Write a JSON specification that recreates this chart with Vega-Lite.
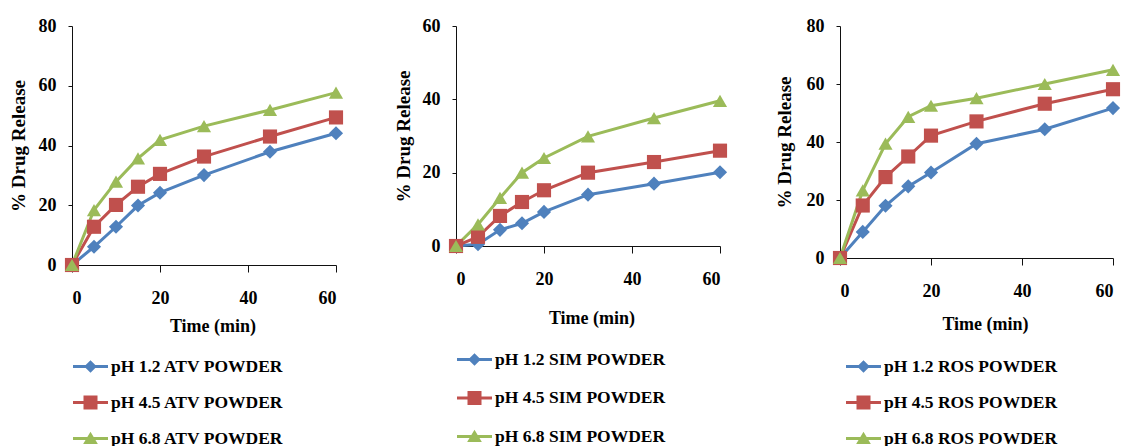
{
  "$schema": "https://vega.github.io/schema/vega-lite/v6.json",
  "padding": {"left": 8, "top": 17, "right": 0, "bottom": 0},
  "background": "white",
  "data": {"values": [
    {"drug": "ATV", "ph": "1.2", "series": "pH 1.2 ATV POWDER", "t": 0, "r": 0},
    {"drug": "ATV", "ph": "1.2", "series": "pH 1.2 ATV POWDER", "t": 5, "r": 6.1},
    {"drug": "ATV", "ph": "1.2", "series": "pH 1.2 ATV POWDER", "t": 10, "r": 12.8},
    {"drug": "ATV", "ph": "1.2", "series": "pH 1.2 ATV POWDER", "t": 15, "r": 19.9},
    {"drug": "ATV", "ph": "1.2", "series": "pH 1.2 ATV POWDER", "t": 20, "r": 24.2},
    {"drug": "ATV", "ph": "1.2", "series": "pH 1.2 ATV POWDER", "t": 30, "r": 30.1},
    {"drug": "ATV", "ph": "1.2", "series": "pH 1.2 ATV POWDER", "t": 45, "r": 37.9},
    {"drug": "ATV", "ph": "1.2", "series": "pH 1.2 ATV POWDER", "t": 60, "r": 44.1},
    {"drug": "ATV", "ph": "4.5", "series": "pH 4.5 ATV POWDER", "t": 0, "r": 0},
    {"drug": "ATV", "ph": "4.5", "series": "pH 4.5 ATV POWDER", "t": 5, "r": 12.8},
    {"drug": "ATV", "ph": "4.5", "series": "pH 4.5 ATV POWDER", "t": 10, "r": 20.1},
    {"drug": "ATV", "ph": "4.5", "series": "pH 4.5 ATV POWDER", "t": 15, "r": 26.2},
    {"drug": "ATV", "ph": "4.5", "series": "pH 4.5 ATV POWDER", "t": 20, "r": 30.5},
    {"drug": "ATV", "ph": "4.5", "series": "pH 4.5 ATV POWDER", "t": 30, "r": 36.3},
    {"drug": "ATV", "ph": "4.5", "series": "pH 4.5 ATV POWDER", "t": 45, "r": 43},
    {"drug": "ATV", "ph": "4.5", "series": "pH 4.5 ATV POWDER", "t": 60, "r": 49.4},
    {"drug": "ATV", "ph": "6.8", "series": "pH 6.8 ATV POWDER", "t": 0, "r": 0},
    {"drug": "ATV", "ph": "6.8", "series": "pH 6.8 ATV POWDER", "t": 5, "r": 18.4},
    {"drug": "ATV", "ph": "6.8", "series": "pH 6.8 ATV POWDER", "t": 10, "r": 27.9},
    {"drug": "ATV", "ph": "6.8", "series": "pH 6.8 ATV POWDER", "t": 15, "r": 35.7},
    {"drug": "ATV", "ph": "6.8", "series": "pH 6.8 ATV POWDER", "t": 20, "r": 41.9},
    {"drug": "ATV", "ph": "6.8", "series": "pH 6.8 ATV POWDER", "t": 30, "r": 46.5},
    {"drug": "ATV", "ph": "6.8", "series": "pH 6.8 ATV POWDER", "t": 45, "r": 51.9},
    {"drug": "ATV", "ph": "6.8", "series": "pH 6.8 ATV POWDER", "t": 60, "r": 57.7},
    {"drug": "SIM", "ph": "1.2", "series": "pH 1.2 SIM POWDER", "t": 0, "r": 0},
    {"drug": "SIM", "ph": "1.2", "series": "pH 1.2 SIM POWDER", "t": 5, "r": 0.5},
    {"drug": "SIM", "ph": "1.2", "series": "pH 1.2 SIM POWDER", "t": 10, "r": 4.4},
    {"drug": "SIM", "ph": "1.2", "series": "pH 1.2 SIM POWDER", "t": 15, "r": 6.2},
    {"drug": "SIM", "ph": "1.2", "series": "pH 1.2 SIM POWDER", "t": 20, "r": 9.3},
    {"drug": "SIM", "ph": "1.2", "series": "pH 1.2 SIM POWDER", "t": 30, "r": 14},
    {"drug": "SIM", "ph": "1.2", "series": "pH 1.2 SIM POWDER", "t": 45, "r": 17},
    {"drug": "SIM", "ph": "1.2", "series": "pH 1.2 SIM POWDER", "t": 60, "r": 20.1},
    {"drug": "SIM", "ph": "4.5", "series": "pH 4.5 SIM POWDER", "t": 0, "r": 0},
    {"drug": "SIM", "ph": "4.5", "series": "pH 4.5 SIM POWDER", "t": 5, "r": 2.5},
    {"drug": "SIM", "ph": "4.5", "series": "pH 4.5 SIM POWDER", "t": 10, "r": 8.2},
    {"drug": "SIM", "ph": "4.5", "series": "pH 4.5 SIM POWDER", "t": 15, "r": 12},
    {"drug": "SIM", "ph": "4.5", "series": "pH 4.5 SIM POWDER", "t": 20, "r": 15.2},
    {"drug": "SIM", "ph": "4.5", "series": "pH 4.5 SIM POWDER", "t": 30, "r": 20},
    {"drug": "SIM", "ph": "4.5", "series": "pH 4.5 SIM POWDER", "t": 45, "r": 22.9},
    {"drug": "SIM", "ph": "4.5", "series": "pH 4.5 SIM POWDER", "t": 60, "r": 26},
    {"drug": "SIM", "ph": "6.8", "series": "pH 6.8 SIM POWDER", "t": 0, "r": 0},
    {"drug": "SIM", "ph": "6.8", "series": "pH 6.8 SIM POWDER", "t": 5, "r": 5.9},
    {"drug": "SIM", "ph": "6.8", "series": "pH 6.8 SIM POWDER", "t": 10, "r": 13.1},
    {"drug": "SIM", "ph": "6.8", "series": "pH 6.8 SIM POWDER", "t": 15, "r": 20},
    {"drug": "SIM", "ph": "6.8", "series": "pH 6.8 SIM POWDER", "t": 20, "r": 24},
    {"drug": "SIM", "ph": "6.8", "series": "pH 6.8 SIM POWDER", "t": 30, "r": 29.9},
    {"drug": "SIM", "ph": "6.8", "series": "pH 6.8 SIM POWDER", "t": 45, "r": 34.9},
    {"drug": "SIM", "ph": "6.8", "series": "pH 6.8 SIM POWDER", "t": 60, "r": 39.6},
    {"drug": "ROS", "ph": "1.2", "series": "pH 1.2 ROS POWDER", "t": 0, "r": 0},
    {"drug": "ROS", "ph": "1.2", "series": "pH 1.2 ROS POWDER", "t": 5, "r": 9},
    {"drug": "ROS", "ph": "1.2", "series": "pH 1.2 ROS POWDER", "t": 10, "r": 18},
    {"drug": "ROS", "ph": "1.2", "series": "pH 1.2 ROS POWDER", "t": 15, "r": 24.7},
    {"drug": "ROS", "ph": "1.2", "series": "pH 1.2 ROS POWDER", "t": 20, "r": 29.5},
    {"drug": "ROS", "ph": "1.2", "series": "pH 1.2 ROS POWDER", "t": 30, "r": 39.4},
    {"drug": "ROS", "ph": "1.2", "series": "pH 1.2 ROS POWDER", "t": 45, "r": 44.4},
    {"drug": "ROS", "ph": "1.2", "series": "pH 1.2 ROS POWDER", "t": 60, "r": 51.7},
    {"drug": "ROS", "ph": "4.5", "series": "pH 4.5 ROS POWDER", "t": 0, "r": 0},
    {"drug": "ROS", "ph": "4.5", "series": "pH 4.5 ROS POWDER", "t": 5, "r": 18.1},
    {"drug": "ROS", "ph": "4.5", "series": "pH 4.5 ROS POWDER", "t": 10, "r": 27.9},
    {"drug": "ROS", "ph": "4.5", "series": "pH 4.5 ROS POWDER", "t": 15, "r": 35},
    {"drug": "ROS", "ph": "4.5", "series": "pH 4.5 ROS POWDER", "t": 20, "r": 42.2},
    {"drug": "ROS", "ph": "4.5", "series": "pH 4.5 ROS POWDER", "t": 30, "r": 47.1},
    {"drug": "ROS", "ph": "4.5", "series": "pH 4.5 ROS POWDER", "t": 45, "r": 53.2},
    {"drug": "ROS", "ph": "4.5", "series": "pH 4.5 ROS POWDER", "t": 60, "r": 58.2},
    {"drug": "ROS", "ph": "6.8", "series": "pH 6.8 ROS POWDER", "t": 0, "r": 0},
    {"drug": "ROS", "ph": "6.8", "series": "pH 6.8 ROS POWDER", "t": 5, "r": 23.3},
    {"drug": "ROS", "ph": "6.8", "series": "pH 6.8 ROS POWDER", "t": 10, "r": 39.4},
    {"drug": "ROS", "ph": "6.8", "series": "pH 6.8 ROS POWDER", "t": 15, "r": 48.7},
    {"drug": "ROS", "ph": "6.8", "series": "pH 6.8 ROS POWDER", "t": 20, "r": 52.5},
    {"drug": "ROS", "ph": "6.8", "series": "pH 6.8 ROS POWDER", "t": 30, "r": 55.1},
    {"drug": "ROS", "ph": "6.8", "series": "pH 6.8 ROS POWDER", "t": 45, "r": 60},
    {"drug": "ROS", "ph": "6.8", "series": "pH 6.8 ROS POWDER", "t": 60, "r": 64.9}
  ]},
  "config": {
    "view": {"stroke": null},
    "axis": {
      "labelFont": "Liberation Serif", "labelFontWeight": "bold", "labelFontSize": 18, "labelColor": "#000",
      "titleFont": "Liberation Serif", "titleFontWeight": "bold", "titleFontSize": 18, "titleColor": "#000",
      "domainColor": "#111", "tickColor": "#111", "domainWidth": 1, "tickWidth": 1, "grid": false
    },
    "axisX": {"tickSize": 7, "labelPadding": 17, "titleBaseline": "middle"},
    "axisY": {"tickSize": 4, "labelPadding": 12, "titleFontSize": 19, "titleBaseline": "middle"},
    "legend": {
      "labelFont": "Liberation Serif", "labelFontWeight": "bold", "labelFontSize": 17.5, "labelColor": "#000",
      "symbolSize": 1225, "symbolStrokeWidth": 0, "rowPadding": 10, "labelOffset": 3, "padding": 0, "labelLimit": 0,
      "symbolType": {"expr": "datum.index === 0 ? 'M-1,-0.09H1V0.09H-1Z M0,-0.36L0.36,0L0,0.36L-0.36,0Z' : datum.index === 1 ? 'M-1,-0.09H1V0.09H-1Z M-0.4,-0.4H0.4V0.4H-0.4Z' : 'M-1,-0.09H1V0.09H-1Z M0,-0.38L0.42,0.32H-0.42Z'"}
    },
    "line": {"strokeWidth": 3},
    "point": {"filled": true, "size": 200, "opacity": 1, "strokeWidth": 0}
  },
  "spacing": 120,
  "bounds": "flush",
  "resolve": {"scale": {"color": "independent", "stroke": "independent", "x": "independent", "y": "independent"}, "legend": {"color": "independent", "stroke": "independent"}},
  "hconcat": [
    {
      "width": 264, "height": 239,
      "transform": [{"filter": "datum.drug === 'ATV'"}],
      "encoding": {
        "x": {"field": "t", "type": "quantitative", "scale": {"domain": [0, 60], "nice": false}, "axis": {"values": [0, 20, 40, 60], "title": "Time (min)", "titleX": 140.5, "titleY": 61}},
        "y": {"field": "r", "type": "quantitative", "scale": {"domain": [0, 80], "nice": false}, "axis": {"values": [0, 20, 40, 60, 80], "title": "% Drug  Release", "titleX": -54}},
        "color": {"field": "series", "type": "nominal", "scale": {"domain": ["pH 1.2 ATV POWDER", "pH 4.5 ATV POWDER", "pH 6.8 ATV POWDER"], "range": ["#4F81BD", "#C0504D", "#9BBB59"]},
          "legend": {"title": null, "orient": "none", "legendX": 1, "legendY": 323}}
      },
      "layer": [
        {"mark": {"type": "line"}, "encoding": {"color": null, "stroke": {"field": "series", "type": "nominal", "scale": {"range": ["#4F81BD", "#C0504D", "#9BBB59"]}, "legend": null}}},
        {"transform": [{"filter": "datum.ph === '1.2'"}], "mark": {"type": "point", "shape": "diamond"}},
        {"transform": [{"filter": "datum.ph === '4.5'"}], "mark": {"type": "point", "shape": "square"}},
        {"transform": [{"filter": "datum.ph === '6.8'"}], "mark": {"type": "point", "shape": "triangle-up"}}
      ]
    },
    {
      "width": 264, "height": 220,
      "transform": [{"filter": "datum.drug === 'SIM'"}],
      "encoding": {
        "x": {"field": "t", "type": "quantitative", "scale": {"domain": [0, 60], "nice": false}, "axis": {"values": [0, 20, 40, 60], "title": "Time (min)", "titleX": 135.5, "titleY": 72}},
        "y": {"field": "r", "type": "quantitative", "scale": {"domain": [0, 60], "nice": false}, "axis": {"values": [0, 20, 40, 60], "title": "% Drug  Release", "titleX": -53}},
        "color": {"field": "series", "type": "nominal", "scale": {"domain": ["pH 1.2 SIM POWDER", "pH 4.5 SIM POWDER", "pH 6.8 SIM POWDER"], "range": ["#4F81BD", "#C0504D", "#9BBB59"]},
          "legend": {"title": null, "orient": "none", "legendX": 1, "legendY": 316, "rowPadding": 12.5}}
      },
      "layer": [
        {"mark": {"type": "line"}, "encoding": {"color": null, "stroke": {"field": "series", "type": "nominal", "scale": {"range": ["#4F81BD", "#C0504D", "#9BBB59"]}, "legend": null}}},
        {"transform": [{"filter": "datum.ph === '1.2'"}], "mark": {"type": "point", "shape": "diamond"}},
        {"transform": [{"filter": "datum.ph === '4.5'"}], "mark": {"type": "point", "shape": "square"}},
        {"transform": [{"filter": "datum.ph === '6.8'"}], "mark": {"type": "point", "shape": "triangle-up"}}
      ]
    },
    {
      "width": 273, "height": 232,
      "transform": [{"filter": "datum.drug === 'ROS'"}],
      "encoding": {
        "x": {"field": "t", "type": "quantitative", "scale": {"domain": [0, 60], "nice": false}, "axis": {"values": [0, 20, 40, 60], "title": "Time (min)", "titleX": 145, "titleY": 66}},
        "y": {"field": "r", "type": "quantitative", "scale": {"domain": [0, 80], "nice": false}, "axis": {"values": [0, 20, 40, 60, 80], "title": "% Drug  Release", "titleX": -56}},
        "color": {"field": "series", "type": "nominal", "scale": {"domain": ["pH 1.2 ROS POWDER", "pH 4.5 ROS POWDER", "pH 6.8 ROS POWDER"], "range": ["#4F81BD", "#C0504D", "#9BBB59"]},
          "legend": {"title": null, "orient": "none", "legendX": 6, "legendY": 323}}
      },
      "layer": [
        {"mark": {"type": "line"}, "encoding": {"color": null, "stroke": {"field": "series", "type": "nominal", "scale": {"range": ["#4F81BD", "#C0504D", "#9BBB59"]}, "legend": null}}},
        {"transform": [{"filter": "datum.ph === '1.2'"}], "mark": {"type": "point", "shape": "diamond"}},
        {"transform": [{"filter": "datum.ph === '4.5'"}], "mark": {"type": "point", "shape": "square"}},
        {"transform": [{"filter": "datum.ph === '6.8'"}], "mark": {"type": "point", "shape": "triangle-up"}}
      ]
    }
  ]
}
